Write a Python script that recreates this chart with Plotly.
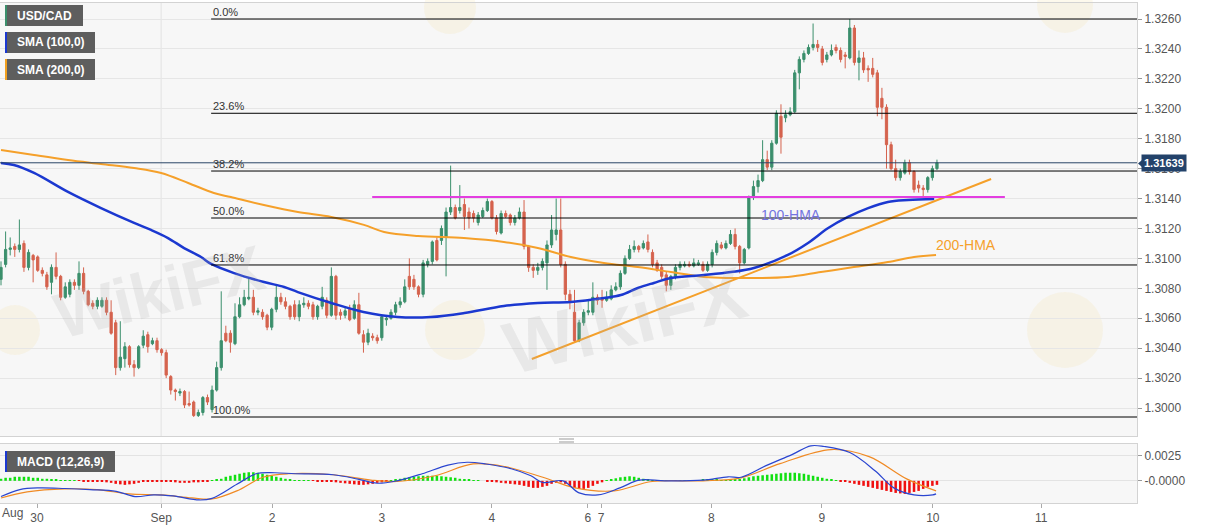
import plotly.graph_objects as go

# ---------------- data ----------------
opens = [1.3086,1.3096,1.3106,1.3108,1.3106,1.3110,1.3094,1.3102,1.3101,1.3092,
1.3089,1.3084,1.3094,1.3088,1.3074,1.3076,1.3084,1.3082,1.3090,1.3078,
1.3070,1.3068,1.3068,1.3072,1.3064,1.3057,1.3027,1.3033,1.3041,1.3029,
1.3027,1.3042,1.3049,1.3043,1.3045,1.3039,1.3037,1.3021,1.3012,1.3010,
1.3011,1.3003,1.3004,1.2995,1.2997,1.3007,1.2999,1.3012,1.3027,1.3050,
1.3050,1.3043,1.3061,1.3069,1.3073,1.3074,1.3064,1.3064,1.3062,1.3054,
1.3066,1.3074,1.3071,1.3068,1.3069,1.3061,1.3069,1.3070,1.3069,1.3061,
1.3068,1.3072,1.3062,1.3088,1.3064,1.3062,1.3066,1.3060,1.3069,1.3049,
1.3044,1.3048,1.3047,1.3047,1.3059,1.3060,1.3064,1.3069,1.3071,1.3088,
1.3086,1.3081,1.3076,1.3096,1.3098,1.3112,1.3112,1.3114,1.3131,1.3134,
1.3132,1.3136,1.3131,1.3130,1.3124,1.3128,1.3132,1.3138,1.3127,1.3117,
1.3130,1.3129,1.3124,1.3127,1.3131,1.3108,1.3094,1.3092,1.3094,1.3097,
1.3109,1.3116,1.3119,1.3096,1.3076,1.3064,1.3045,1.3057,1.3064,1.3064,
1.3074,1.3073,1.3072,1.3073,1.3079,1.3081,1.3090,1.3100,1.3106,1.3108,
1.3107,1.3111,1.3104,1.3097,1.3094,1.3089,1.3082,1.3088,1.3094,1.3095,
1.3096,1.3095,1.3096,1.3096,1.3092,1.3096,1.3104,1.3109,1.3107,1.3110,
1.3116,1.3108,1.3097,1.3107,1.3141,1.3148,1.3152,1.3166,1.3161,1.3177,
1.3195,1.3194,1.3196,1.3198,1.3224,1.3233,1.3237,1.3241,1.3243,1.3240,
1.3233,1.3236,1.3241,1.3239,1.3236,1.3234,1.3254,1.3231,1.3234,1.3227,
1.3227,1.3224,1.3207,1.3201,1.3176,1.3160,1.3154,1.3157,1.3164,1.3158,
1.3149,1.3147,1.3146,1.3154,1.3160]

highs = [1.3098,1.3118,1.3114,1.3110,1.3126,1.3112,1.3106,1.3103,1.3102,1.3094,
1.3091,1.3096,1.3104,1.3089,1.3084,1.3086,1.3086,1.3098,1.3094,1.3079,
1.3072,1.3074,1.3074,1.3074,1.3072,1.3059,1.3058,1.3044,1.3042,1.3032,
1.3042,1.3052,1.3051,1.3047,1.3047,1.3040,1.3039,1.3022,1.3013,1.3013,
1.3012,1.3011,1.3005,1.2999,1.3008,1.3009,1.3015,1.3031,1.3078,1.3055,
1.3052,1.3070,1.3074,1.3079,1.3087,1.3079,1.3067,1.3066,1.3063,1.3067,
1.3082,1.3077,1.3074,1.3069,1.3072,1.3072,1.3074,1.3072,1.3071,1.3069,
1.3081,1.3074,1.3094,1.3089,1.3066,1.3067,1.3069,1.3072,1.3077,1.3052,
1.3053,1.3050,1.3049,1.3062,1.3062,1.3066,1.3071,1.3074,1.3086,1.3100,
1.3089,1.3082,1.3099,1.3100,1.3112,1.3114,1.3122,1.3134,1.3162,1.3136,
1.3149,1.3140,1.3134,1.3132,1.3131,1.3134,1.3140,1.3139,1.3129,1.3132,
1.3132,1.3130,1.3129,1.3134,1.3139,1.3109,1.3096,1.3097,1.3100,1.3112,
1.3129,1.3140,1.3140,1.3098,1.3079,1.3079,1.3059,1.3066,1.3072,1.3084,
1.3076,1.3079,1.3078,1.3082,1.3084,1.3092,1.3102,1.3109,1.3112,1.3109,
1.3112,1.3116,1.3106,1.3099,1.3096,1.3091,1.3089,1.3096,1.3098,1.3098,
1.3098,1.3100,1.3099,1.3098,1.3098,1.3106,1.3112,1.3111,1.3112,1.3119,
1.3120,1.3109,1.3107,1.3142,1.3152,1.3156,1.3179,1.3172,1.3179,1.3199,
1.3203,1.3199,1.3201,1.3226,1.3235,1.3239,1.3243,1.3257,1.3246,1.3242,
1.3238,1.3243,1.3243,1.3241,1.3238,1.3260,1.3256,1.3239,1.3238,1.3229,
1.3234,1.3226,1.3214,1.3203,1.3178,1.3166,1.3160,1.3166,1.3166,1.3159,
1.3152,1.3149,1.3155,1.3162,1.3166]

lows = [1.3082,1.3094,1.3102,1.3101,1.3104,1.3091,1.3092,1.3084,1.3091,1.3088,
1.3079,1.3076,1.3086,1.3072,1.3073,1.3074,1.3079,1.3079,1.3076,1.3068,
1.3066,1.3066,1.3067,1.3062,1.3049,1.3022,1.3025,1.3027,1.3027,1.3021,
1.3026,1.3040,1.3037,1.3042,1.3037,1.3035,1.3020,1.3009,1.3005,1.3008,
1.3000,1.3001,1.2994,1.2994,1.2995,1.3002,1.2997,1.3011,1.3025,1.3044,
1.3037,1.3042,1.3060,1.3068,1.3072,1.3062,1.3062,1.3059,1.3052,1.3052,
1.3064,1.3069,1.3066,1.3059,1.3059,1.3058,1.3067,1.3066,1.3059,1.3059,
1.3066,1.3060,1.3061,1.3059,1.3059,1.3060,1.3058,1.3059,1.3049,1.3037,
1.3042,1.3045,1.3043,1.3045,1.3055,1.3059,1.3062,1.3067,1.3070,1.3079,
1.3079,1.3074,1.3074,1.3094,1.3096,1.3098,1.3109,1.3088,1.3129,1.3126,
1.3130,1.3119,1.3120,1.3124,1.3122,1.3127,1.3131,1.3126,1.3116,1.3116,
1.3127,1.3122,1.3122,1.3126,1.3106,1.3091,1.3087,1.3089,1.3092,1.3079,
1.3107,1.3112,1.3094,1.3072,1.3066,1.3044,1.3044,1.3055,1.3062,1.3062,
1.3069,1.3067,1.3071,1.3072,1.3078,1.3079,1.3089,1.3099,1.3104,1.3104,
1.3106,1.3104,1.3094,1.3091,1.3086,1.3078,1.3079,1.3086,1.3092,1.3094,
1.3094,1.3094,1.3095,1.3091,1.3091,1.3094,1.3102,1.3106,1.3106,1.3109,
1.3106,1.3090,1.3096,1.3106,1.3139,1.3144,1.3151,1.3159,1.3159,1.3176,
1.3170,1.3191,1.3195,1.3197,1.3213,1.3231,1.3236,1.3239,1.3238,1.3229,
1.3231,1.3235,1.3237,1.3231,1.3227,1.3233,1.3229,1.3219,1.3224,1.3218,
1.3221,1.3195,1.3193,1.3160,1.3159,1.3152,1.3152,1.3156,1.3156,1.3144,
1.3144,1.3141,1.3144,1.3152,1.3159]

closes = [1.3094,1.3106,1.3107,1.3106,1.3109,1.3094,1.3104,1.3099,1.3092,1.3090,
1.3081,1.3094,1.3088,1.3074,1.3081,1.3084,1.3082,1.3090,1.3078,1.3069,
1.3068,1.3072,1.3072,1.3064,1.3050,1.3027,1.3034,1.3041,1.3029,1.3027,
1.3041,1.3048,1.3041,1.3045,1.3039,1.3037,1.3022,1.3012,1.3011,1.3011,
1.3002,1.3002,1.2995,1.2997,1.3007,1.3004,1.3012,1.3027,1.3045,1.3045,
1.3044,1.3061,1.3069,1.3074,1.3074,1.3064,1.3065,1.3061,1.3054,1.3066,
1.3074,1.3071,1.3068,1.3061,1.3061,1.3069,1.3070,1.3068,1.3061,1.3068,
1.3074,1.3062,1.3088,1.3062,1.3062,1.3065,1.3059,1.3069,1.3050,1.3044,
1.3050,1.3047,1.3045,1.3061,1.3060,1.3064,1.3069,1.3071,1.3081,1.3081,
1.3081,1.3076,1.3097,1.3098,1.3111,1.3099,1.3120,1.3131,1.3134,1.3127,
1.3134,1.3128,1.3127,1.3127,1.3129,1.3132,1.3138,1.3127,1.3118,1.3130,
1.3128,1.3124,1.3127,1.3131,1.3108,1.3094,1.3092,1.3094,1.3098,1.3109,
1.3119,1.3119,1.3096,1.3076,1.3071,1.3045,1.3057,1.3064,1.3065,1.3074,
1.3072,1.3072,1.3074,1.3079,1.3081,1.3090,1.3100,1.3106,1.3108,1.3106,
1.3110,1.3106,1.3096,1.3092,1.3088,1.3082,1.3088,1.3094,1.3096,1.3096,
1.3095,1.3097,1.3097,1.3092,1.3096,1.3104,1.3110,1.3107,1.3110,1.3116,
1.3108,1.3097,1.3106,1.3141,1.3148,1.3152,1.3166,1.3161,1.3177,1.3197,
1.3181,1.3196,1.3198,1.3224,1.3233,1.3237,1.3241,1.3243,1.3241,1.3231,
1.3236,1.3239,1.3239,1.3233,1.3235,1.3254,1.3231,1.3234,1.3226,1.3226,
1.3223,1.3201,1.3201,1.3176,1.3160,1.3154,1.3158,1.3164,1.3158,1.3146,
1.3147,1.3146,1.3154,1.3160,1.31639]

candle_idx = list(range(len(closes)))

# moving averages (candle index, price)
hma100_x = [0, 2.8, 7.2, 14.6, 21.8, 29, 32.7, 36.4, 39.9, 43.6, 45.8, 50.8, 57.3, 61.7, 64.7,
            72, 79, 86.5, 93.7, 101, 109.6, 117, 124.2, 131.4, 135.1, 138.8, 142.3, 146,
            153.2, 159.1, 164.1, 171.5, 175.9, 180.3, 184.6, 189, 193.3, 197.7, 203.4]
hma100_y = [1.31638, 1.31624, 1.31571, 1.31444, 1.31336, 1.31237, 1.31190, 1.31136, 1.31069,
            1.31009, 1.30963, 1.30902, 1.30842, 1.30809, 1.30775, 1.30702, 1.30642, 1.30608,
            1.30608, 1.30635, 1.30682, 1.30702, 1.30709, 1.30735, 1.30755, 1.30802, 1.30836,
            1.30869, 1.30889, 1.30909, 1.30936, 1.31023, 1.31103, 1.31203, 1.31277, 1.31336,
            1.31377, 1.31390, 1.31397]

hma200_x = [0, 7.2, 14.6, 21.8, 29, 34.9, 40.8, 46.4, 50.1, 57.3, 64.7, 72, 79.1, 83.5, 90.9,
            100.9, 109.6, 117, 124.2, 131.4, 138.8, 146, 153.2, 159.1, 164.1, 171.5, 178.7,
            185.9, 193.3, 199, 203.8]
hma200_y = [1.31725, 1.31691, 1.31658, 1.31631, 1.31604, 1.31571, 1.31504, 1.31437, 1.31410,
            1.31357, 1.31310, 1.31277, 1.31224, 1.31177, 1.31150, 1.31136, 1.31110, 1.31070,
            1.31009, 1.30969, 1.30942, 1.30909, 1.30876, 1.30869, 1.30869, 1.30876, 1.30909,
            1.30942, 1.30976, 1.31009, 1.31023]

# MACD (12,26,9)
macd_x = [0, 4.1, 8.3, 13.9, 19.4, 25.1, 29.2, 33.3, 37.5, 43.2, 46.0, 51.4, 55.6, 59.7, 64.1,
          72.4, 77.8, 82.0, 86.3, 91.8, 97.4, 101.6, 105.7, 111.2, 115.5, 118.1, 122.5, 126.0,
          130.1, 134.9, 139.1, 144.7, 153.0, 158.5, 161.3, 167.0, 172.4, 176.5, 179.4, 185.0,
          190.5, 194.6, 199.0, 203.1, 203.8]
macd_v = [-0.00156, -0.00087, -0.0007, -0.00076, -0.00087, -0.00104, -0.00156, -0.00139,
          -0.0015, -0.0019, -0.00174, -0.00035, 0.0007, 0.0008, 0.0007, 0.0006, 0.00017,
          -0.00024, 0.0, 0.0007, 0.00156, 0.00184, 0.00167, 0.0012, 0.0005, -0.00017, 0.0,
          -0.0012, -0.0014, -0.0007, 0.00007, 0.0, 0.00007, 0.0004, 0.00035, 0.00156, 0.0026,
          0.00347, 0.0034, 0.0028, 0.001, -0.0007, -0.0014, -0.0014, -0.0013]
signal_x = [0, 5.7, 13.9, 20.9, 27.9, 34.9, 41.6, 46.0, 51.4, 57.1, 62.6, 72.4, 80.6, 86.3,
            94.6, 102.9, 109.9, 118.1, 125.1, 133.6, 141.9, 153.0, 161.3, 169.8, 180.9, 189.2,
            197.5, 203.8]
signal_v = [-0.0017, -0.0011, -0.0008, -0.00087, -0.0013, -0.0014, -0.0017, -0.0018, -0.001,
            0.00035, 0.0007, 0.0006, 0.00007, -0.00007, 0.0005, 0.00167, 0.0014, 0.00035,
            -0.0007, -0.001, -0.00007, 0.0, 0.0003, 0.0017, 0.0031, 0.0024, 0.00017, -0.001]
# histogram, in pips (1e-4)
macd_hist_pips = [2,3,3,4,4,4,4,3,3,2,2,1,1,
    0.5,0.3,0.2,0.1,-0.1,-0.2,-0.3,-0.5,
    -0.5,-1,-1.5,
    -2,-3,-3.5,-4,-3.5,-3,-2,
    -1,-0.5,-0.3,-0.2,-0.3,
    -0.5,-1,-1.5,-2,-2,-2,-1.5,-1.5,-1,
    -0.5,0.2,1,
    2,4,5,6,7,8,8.5,8.5,8,7,6,5,4,3,2,1,
    0.5,0.3,0.2,0.1,-0.1,-0.2,-0.3,-0.5,
    -1,-1.5,-2,-2.5,-3,-3.5,-4,-4,-3.5,-3,-2,-1.5,-0.5,
    0.5,1,2,3,3.5,4,4.5,5,5,5,5,4.5,4,3.5,3,2,1.5,1,
    0.5,0.2,0,-0.3,
    -1,-1.5,-2,-2.5,-3,-3.5,-4,-5,-6,-7,-7,-6,-5,-3,-2,
    -1.5,-3,-5,-7,-8,-8,-7,-5,-3,-1.5,
    0.5,1.5,2.5,3.5,4,4.5,4,3,2,1,
    0.5,0.3,0.2,0.1,0,-0.1,0.1,0.2,0.3,0.5,0.5,
    1,1.5,1.5,1,0.8,0.5,0.5,1,
    1.5,2.5,3.5,4.5,5,5.5,6,6.5,7,7.5,8,8,8,7.5,7,6,5,4,3,2,1,
    0.3,-0.3,-1,
    -2,-3,-4,-5,-6,-7,-8,-9,-10,-11,-12,-12.5,-13,-12,-11,-10,-8,-6,-5,-4]

fib_levels = [1.3260, 1.3197, 1.31584, 1.3127, 1.30956, 1.2994]
fib_labels = ["0.0%", "23.6%", "38.2%", "50.0%", "61.8%", "100.0%"]
fib_start = 45.8
resistance_level = 1.3141
resistance_x = [80.9, 218.8]
trend_x = [115.7, 215.8]
trend_y = [1.30328, 1.31531]
last_price = 1.31639

tick_pos = [7.85, 34.9, 59.1, 83.0, 107.0, 127.9, 130.8, 154.8, 178.9, 203.1, 226.7]
tick_txt = ["30", "Sep", "2", "3", "4", "6", "7", "8", "9", "10", "11"]
sep_idx = 34.9

X_RANGE = [-0.22, 247.6]
FONT = "Liberation Sans, Arial, sans-serif"

# ---------------- figure ----------------
fig = go.Figure()

fig.add_trace(go.Candlestick(
    x=candle_idx, open=opens, high=highs, low=lows, close=closes,
    increasing=dict(line=dict(color="#3b8f6c", width=1), fillcolor="#3b8f6c"),
    decreasing=dict(line=dict(color="#d5634e", width=1), fillcolor="#d5634e"),
    whiskerwidth=0, xaxis="x", yaxis="y", showlegend=False, hoverinfo="skip"))

fig.add_trace(go.Scatter(x=hma200_x, y=hma200_y, mode="lines",
    line=dict(color="#f5a02a", width=2, shape="spline"), xaxis="x", yaxis="y",
    showlegend=False, hoverinfo="skip"))
fig.add_trace(go.Scatter(x=hma100_x, y=hma100_y, mode="lines",
    line=dict(color="#1b38d0", width=2.5, shape="spline"), xaxis="x", yaxis="y",
    showlegend=False, hoverinfo="skip"))
fig.add_trace(go.Scatter(x=trend_x, y=trend_y, mode="lines",
    line=dict(color="#f5a02a", width=2), xaxis="x", yaxis="y",
    showlegend=False, hoverinfo="skip"))
fig.add_trace(go.Scatter(x=resistance_x, y=[resistance_level, resistance_level], mode="lines",
    line=dict(color="#e33ee0", width=2), xaxis="x", yaxis="y",
    showlegend=False, hoverinfo="skip"))

# MACD panel
hist_vals = [v * 1e-4 for v in macd_hist_pips]
hist_cols = ["#11e011" if v >= 0 else "#f01010" for v in hist_vals]
fig.add_trace(go.Bar(x=candle_idx, y=hist_vals, marker=dict(color=hist_cols, line=dict(width=0)),
    width=0.55, xaxis="x2", yaxis="y2", showlegend=False, hoverinfo="skip"))
fig.add_trace(go.Scatter(x=signal_x, y=signal_v, mode="lines",
    line=dict(color="#f08a24", width=1.2, shape="spline"), xaxis="x2", yaxis="y2",
    showlegend=False, hoverinfo="skip"))
fig.add_trace(go.Scatter(x=macd_x, y=macd_v, mode="lines",
    line=dict(color="#2a45d0", width=1.2, shape="spline"), xaxis="x2", yaxis="y2",
    showlegend=False, hoverinfo="skip"))

shapes = []
annotations = []

# fib levels
for lvl, lab in zip(fib_levels, fib_labels):
    shapes.append(dict(type="line", xref="x", yref="y", x0=fib_start, x1=X_RANGE[1],
                       y0=lvl, y1=lvl, line=dict(color="#000000", width=1)))
    annotations.append(dict(x=fib_start, y=lvl, xref="x", yref="y", text=lab, showarrow=False,
                            xanchor="left", yanchor="bottom", yshift=-1,
                            font=dict(family=FONT, size=11, color="#333333")))

# last price line
shapes.append(dict(type="line", xref="paper", yref="y", x0=0, x1=1, y0=last_price, y1=last_price,
                   line=dict(color="#2a4666", width=1)))
# Sep vertical grid line
for yr in ["y domain", "y2 domain"]:
    shapes.append(dict(type="line", xref="x", yref=yr, x0=sep_idx, x1=sep_idx, y0=0, y1=1,
                       line=dict(color="#e2e2e2", width=1), layer="below"))

PW = 1137.0
def xp(px):
    return px / PW
def yp(py):
    return (503.0 - py) / 500.0

# watermarks
annotations.append(dict(x=xp(45), y=yp(292), xref="paper", yref="paper", text="<b>WikiFX</b>",
    showarrow=False, textangle=-14, font=dict(family=FONT, size=64, color="rgba(175,175,175,0.2)")))
annotations.append(dict(x=xp(625), y=yp(320), xref="paper", yref="paper", text="<b>WikiFX</b>",
    showarrow=False, textangle=-14, font=dict(family=FONT, size=74, color="rgba(175,175,175,0.2)")))
for (cx, cy, r) in [(1065, 330, 38), (455, 330, 30), (450, 8, 26), (1065, 5, 28), (15, 330, 25)]:
    shapes.append(dict(type="circle", xref="paper", yref="paper", x0=xp(cx - r), x1=xp(cx + r),
                       y0=yp(cy + r), y1=yp(cy - r), fillcolor="rgba(240,215,140,0.16)",
                       line=dict(width=0), layer="below"))

# legend boxes
boxes = [("USD/CAD", 5, 83, 5, 26, "#3b8f6c"),
         ("SMA (100,0)", 5, 95, 32, 53, "#1b38d0"),
         ("SMA (200,0)", 5, 95, 59, 80, "#f0a020"),
         ("MACD (12,26,9)", 5, 115, 451, 472, "#1b38d0")]
for txt, x0, x1, y0, y1, col in boxes:
    shapes.append(dict(type="rect", xref="paper", yref="paper", x0=xp(x0), x1=xp(x1),
                       y0=yp(y1), y1=yp(y0), fillcolor="#5e5e5e", line=dict(width=0)))
    shapes.append(dict(type="rect", xref="paper", yref="paper", x0=xp(x0), x1=xp(x0 + 2),
                       y0=yp(y1), y1=yp(y0), fillcolor=col, line=dict(width=0)))
    annotations.append(dict(x=xp(x0 + 10), y=yp((y0 + y1) / 2), xref="paper", yref="paper",
                            text="<b>" + txt + "</b>", showarrow=False, xanchor="left",
                            yanchor="middle", font=dict(family=FONT, size=12, color="#ffffff")))

# HMA labels
annotations.append(dict(x=172.2, y=1.3129, xref="x", yref="y", text="100-HMA", showarrow=False,
                        font=dict(family=FONT, size=14, color="#7474e0")))
annotations.append(dict(x=210.3, y=1.3109, xref="x", yref="y", text="200-HMA", showarrow=False,
                        font=dict(family=FONT, size=14, color="#f5a02a")))

# price tag
annotations.append(dict(x=1.0, y=last_price, xref="paper", yref="y", text="<b>1.31639</b>",
                        showarrow=False, xanchor="left", yanchor="middle", xshift=4,
                        bgcolor="#23426a", borderpad=2,
                        font=dict(family=FONT, size=11, color="#ffffff")))
shapes.append(dict(type="path", xref="paper", yref="paper",
                   path="M {a},{b} L {c},{d} L {c},{e} Z".format(
                       a=xp(1138), b=yp(163.5), c=xp(1142), d=yp(160), e=yp(167)),
                   fillcolor="#23426a", line=dict(width=0)))

# "Aug" label
annotations.append(dict(x=0.0, y=yp(513), xref="paper", yref="paper", text="Aug", showarrow=False,
                        xanchor="left", yanchor="middle",
                        font=dict(family=FONT, size=12, color="#555555")))
# separator handle
for yy in [439, 442]:
    shapes.append(dict(type="line", xref="paper", yref="paper", x0=xp(559), x1=xp(574),
                       y0=yp(yy), y1=yp(yy), line=dict(color="#999999", width=1)))

axis_line = "#d3d3d3"
fig.update_layout(
    width=1207, height=526,
    margin=dict(l=0, r=70, t=3, b=23),
    paper_bgcolor="#ffffff", plot_bgcolor="#f7f7f7",
    font=dict(family=FONT, size=12, color="#555555"),
    bargap=0.3, showlegend=False,
    xaxis=dict(domain=[0, 1], anchor="y", range=X_RANGE, showticklabels=False, showgrid=False,
               zeroline=False, showline=True, mirror=True, linecolor=axis_line,
               rangeslider=dict(visible=False), matches="x2", fixedrange=True),
    yaxis=dict(domain=[0.134, 1], anchor="x", side="right", range=[1.29813, 1.32707],
               tickmode="linear", tick0=1.3, dtick=0.002, tickformat=".4f",
               ticks="outside", ticklen=4, tickcolor="#999999", showgrid=True,
               gridcolor="#e6e6e6", zeroline=False, showline=True, mirror=True,
               linecolor=axis_line, tickfont=dict(size=12, color="#555555")),
    xaxis2=dict(domain=[0, 1], anchor="y2", range=X_RANGE, tickmode="array", tickvals=tick_pos,
                ticktext=tick_txt, ticks="outside", ticklen=4, tickcolor="#aaaaaa",
                showgrid=False, zeroline=False, showline=True, mirror=True, linecolor=axis_line,
                tickfont=dict(size=12, color="#555555")),
    yaxis2=dict(domain=[0, 0.118], anchor="x2", side="right", range=[-0.0022, 0.00365],
                tickmode="array", tickvals=[0, 0.0025], ticktext=["-0.0000", "0.0025"],
                ticks="outside", ticklen=4, tickcolor="#999999", showgrid=True,
                gridcolor="#e3e3e3", zeroline=False, showline=True, mirror=True,
                linecolor=axis_line, tickfont=dict(size=12, color="#555555")),
    shapes=shapes, annotations=annotations,
)

fig.write_html("out.html", config={"displayModeBar": False},
               post_script="document.body.style.margin='0px';document.body.style.overflow='hidden';")
